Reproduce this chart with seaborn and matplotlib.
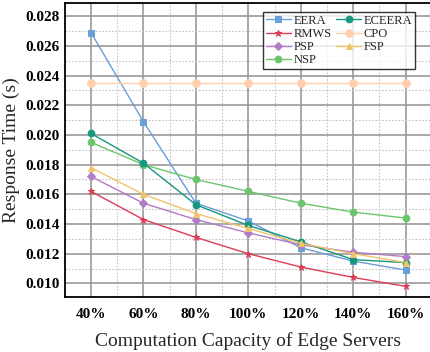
import matplotlib
matplotlib.use("Agg")
import matplotlib.pyplot as plt
from matplotlib.ticker import MultipleLocator, FixedLocator
import seaborn as sns
import pandas as pd

# Computation capacity levels (%) and their tick labels
capacity = [40, 60, 80, 100, 120, 140, 160]
capacity_labels = ["40%", "60%", "80%", "100%", "120%", "140%", "160%"]

# Response time (s) for each scheme
eera = [0.0269, 0.0209, 0.0154, 0.0142, 0.0124, 0.0115, 0.0109]
rmws = [0.0162, 0.0143, 0.0131, 0.0120, 0.0111, 0.0104, 0.0098]
psp = [0.0172, 0.0154, 0.0143, 0.0134, 0.0126, 0.0121, 0.0118]
nsp = [0.0195, 0.0180, 0.0170, 0.0162, 0.0154, 0.0148, 0.0144]
eceera = [0.0201, 0.0181, 0.0153, 0.0139, 0.0128, 0.0116, 0.0114]
cpo = [0.0235, 0.0235, 0.0235, 0.0235, 0.0235, 0.0235, 0.0235]
fsp = [0.0178, 0.0160, 0.0147, 0.0137, 0.0127, 0.0120, 0.0114]

schemes = ["EERA", "RMWS", "PSP", "NSP", "ECEERA", "CPO", "FSP"]
series = [eera, rmws, psp, nsp, eceera, cpo, fsp]

colors = {
    "EERA": "#6a9fd8",
    "RMWS": "#dc3c55",
    "PSP": "#b07cc6",
    "NSP": "#6cc56c",
    "ECEERA": "#17977f",
    "CPO": "#ffcfae",
    "FSP": "#f2c46a",
}
markers = {
    "EERA": "s",
    "RMWS": "*",
    "PSP": "D",
    "NSP": "o",
    "ECEERA": "o",
    "CPO": "o",
    "FSP": "^",
}
sizes = {"EERA": 4.8, "RMWS": 5, "PSP": 4, "NSP": 4.8, "ECEERA": 4.8, "CPO": 5.5, "FSP": 5}

rows = []
for name, vals in zip(schemes, series):
    for c, v in zip(capacity, vals):
        rows.append({"capacity": c, "time": v, "scheme": name})
df = pd.DataFrame(rows)

sns.set_style("white")
plt.rcParams["font.family"] = ["Liberation Serif", "DejaVu Serif"]

fig = plt.figure(figsize=(4.30, 3.52), dpi=100)
ax = fig.add_axes([0.1505, 0.157, 0.854, 0.835])

for name in schemes:
    sub = df[df["scheme"] == name]
    sns.lineplot(data=sub, x="capacity", y="time", ax=ax, color=colors[name],
                 marker=markers[name], markersize=sizes[name],
                 markeredgecolor=colors[name], linewidth=1.0, label=name,
                 zorder=3)

ax.set_xlim(30, 170)
ax.set_ylim(0.0091, 0.0289)
ax.xaxis.set_major_locator(FixedLocator(capacity))
ax.set_xticklabels(capacity_labels)
ax.xaxis.set_minor_locator(MultipleLocator(10))
ax.yaxis.set_major_locator(MultipleLocator(0.002))
ax.yaxis.set_minor_locator(MultipleLocator(0.001))
ax.yaxis.set_major_formatter(matplotlib.ticker.FormatStrFormatter("%.3f"))

ax.grid(which="major", color="#9a9a9a", linewidth=1.2, linestyle="-", zorder=0)
ax.grid(which="minor", color="#c4c4c4", linewidth=0.8, linestyle=(0, (1.5, 1.5)), zorder=0)
ax.set_axisbelow(True)

ax.tick_params(which="major", direction="in", length=4, width=1.2, colors="black",
               labelsize=11)
ax.tick_params(which="minor", direction="in", length=2.5, width=1.0, colors="black")
ax.tick_params(axis="x", pad=8)
for lab in ax.get_xticklabels() + ax.get_yticklabels():
    lab.set_fontweight("bold")

for sp in ax.spines.values():
    sp.set_visible(True)
    sp.set_color("black")
    sp.set_linewidth(1.3)

ax.set_xlabel("Computation Capacity of Edge Servers", fontsize=14, labelpad=8)
ax.set_ylabel("Response Time (s)", fontsize=14, labelpad=4)

handles, labels = ax.get_legend_handles_labels()
leg = ax.legend(handles, labels, ncol=2, loc="upper right",
                bbox_to_anchor=(0.954, 0.968), frameon=True, fancybox=False,
                edgecolor="black", fontsize=9, handlelength=2.0,
                handletextpad=0.2, columnspacing=0.4, labelspacing=0.1,
                borderpad=0.2, borderaxespad=0.0)
leg.get_frame().set_linewidth(1.0)

fig.savefig("out.png", dpi=100)
